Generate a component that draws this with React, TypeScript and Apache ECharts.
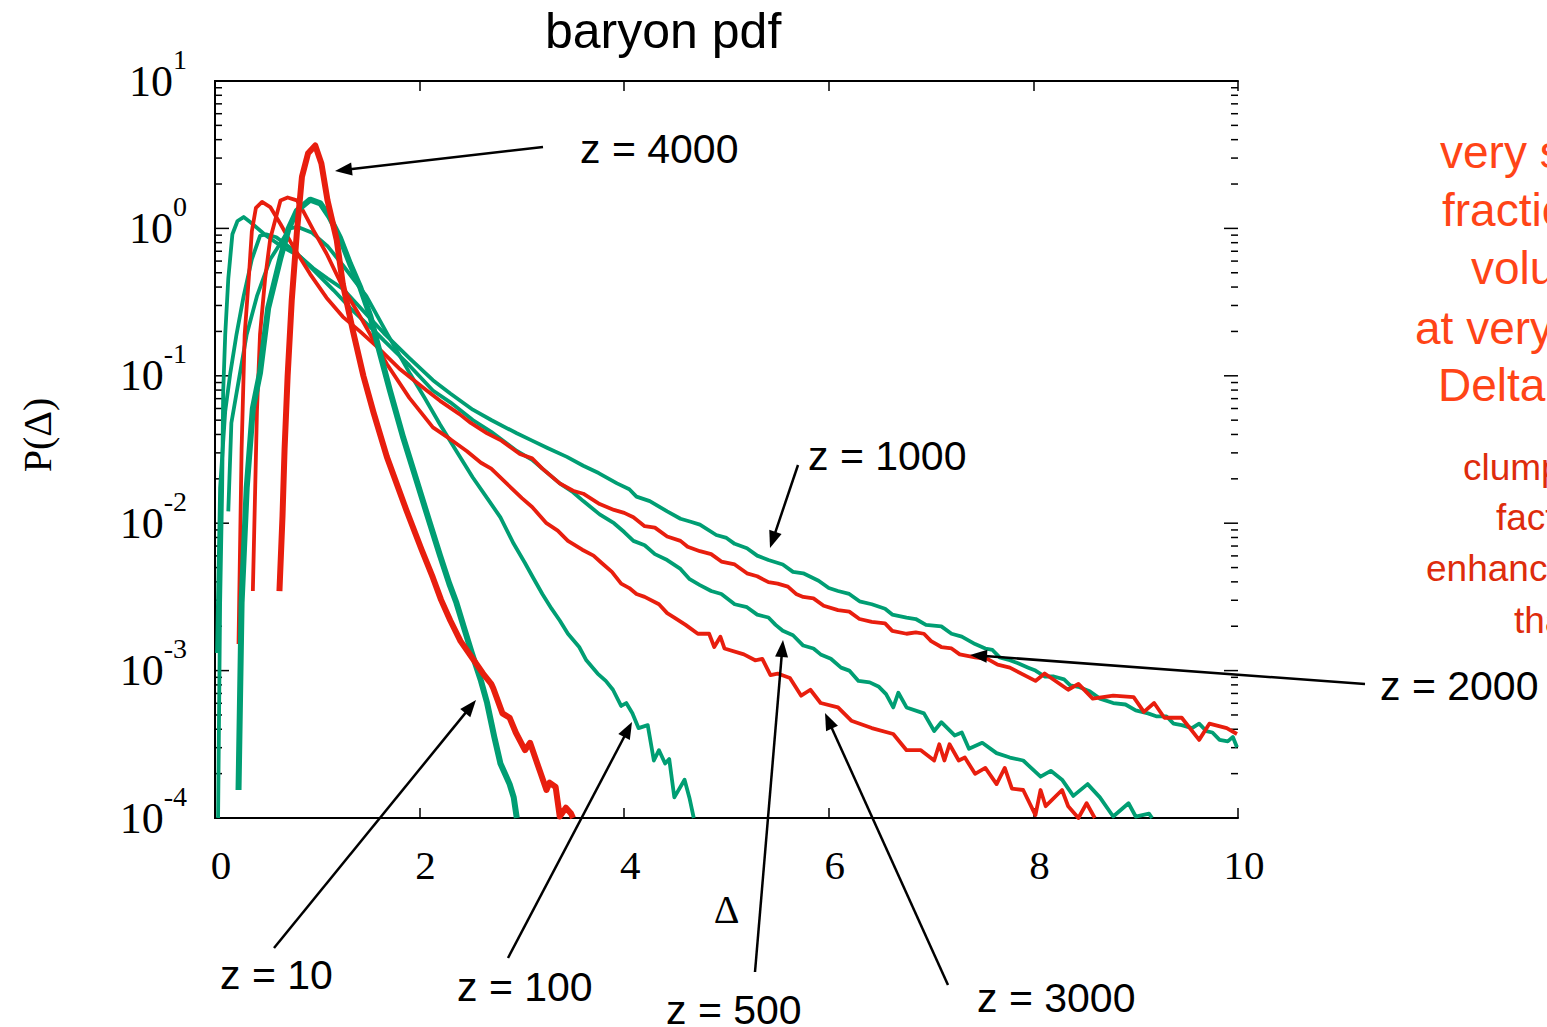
import React, { useEffect, useRef } from "react";
import * as echarts from "echarts";

const RED = "#E81E0E";
const GREEN = "#009E73";
const SERIF = "Liberation Serif";
const SANS = "Liberation Sans";

// Each point: [Δ, log10 P(Δ)]
const z4000 = [
  [0.63, -2.46], [0.66, -1.95], [0.68, -1.5], [0.71, -1.0], [0.75, -0.49], [0.8, -0.03], [0.85, 0.35],
  [0.91, 0.51], [0.98, 0.563], [1.04, 0.44], [1.1, 0.19], [1.19, -0.08], [1.25, -0.38], [1.35, -0.7],
  [1.45, -1.0], [1.55, -1.25], [1.68, -1.55], [1.87, -1.91], [2.02, -2.18], [2.13, -2.37], [2.21, -2.52],
  [2.3, -2.66], [2.4, -2.8], [2.51, -2.91], [2.62, -3.02], [2.7, -3.09], [2.72, -3.12], [2.81, -3.29],
  [2.88, -3.32], [2.94, -3.42], [3.03, -3.54], [3.08, -3.49], [3.15, -3.63], [3.18, -3.69], [3.24, -3.81],
  [3.27, -3.76], [3.33, -3.79], [3.37, -3.99], [3.43, -3.93], [3.48, -3.97], [3.5, -4.0],
];
const z10 = [
  [0.23, -3.81], [0.26, -2.54], [0.31, -1.76], [0.37, -1.22], [0.44, -0.98], [0.52, -0.54], [0.64, -0.2],
  [0.72, 0.0], [0.8, 0.12], [0.93, 0.195], [1.03, 0.17], [1.12, 0.077], [1.22, -0.06], [1.32, -0.24],
  [1.42, -0.4], [1.52, -0.6], [1.61, -0.84], [1.71, -1.1], [1.84, -1.42], [1.97, -1.71], [2.1, -2.0],
  [2.2, -2.22], [2.29, -2.41], [2.36, -2.54], [2.43, -2.7], [2.51, -2.88], [2.6, -3.07], [2.66, -3.22],
  [2.73, -3.45], [2.79, -3.63], [2.88, -3.77], [2.92, -3.86], [2.95, -4.0],
];
const z100 = [
  [0.13, -1.92], [0.16, -1.32], [0.23, -1.04], [0.31, -0.72], [0.41, -0.46], [0.54, -0.21], [0.73, 0.0],
  [0.81, 0.01], [0.95, -0.03], [1.1, -0.12], [1.25, -0.25], [1.36, -0.35], [1.48, -0.46], [1.68, -0.71],
  [1.91, -0.99], [2.05, -1.15], [2.2, -1.33], [2.35, -1.5], [2.52, -1.69], [2.65, -1.82], [2.79, -1.96],
  [2.92, -2.14], [3.03, -2.27], [3.11, -2.37], [3.2, -2.48], [3.29, -2.58], [3.37, -2.66], [3.45, -2.75],
  [3.56, -2.84], [3.63, -2.93], [3.74, -3.02], [3.82, -3.07], [3.89, -3.13], [3.97, -3.24], [4.02, -3.22],
  [4.08, -3.29], [4.14, -3.39], [4.23, -3.37], [4.29, -3.61], [4.34, -3.54], [4.4, -3.63], [4.44, -3.6],
  [4.49, -3.86], [4.59, -3.74], [4.64, -3.87], [4.68, -4.0],
];
const z500 = [
  [0.02, -2.88], [0.05, -1.76], [0.1, -1.24], [0.15, -0.98], [0.21, -0.72], [0.28, -0.46], [0.36, -0.21],
  [0.44, -0.05], [0.5, -0.04], [0.6, -0.06], [0.77, -0.15], [0.93, -0.26], [1.16, -0.42], [1.35, -0.56],
  [1.58, -0.71], [1.65, -0.76], [1.9, -0.93], [2.13, -1.1], [2.3, -1.18], [2.52, -1.3], [2.7, -1.38],
  [2.95, -1.51], [3.1, -1.57], [3.2, -1.63], [3.37, -1.73], [3.5, -1.79], [3.6, -1.85], [3.76, -1.94],
  [3.9, -2.0], [4.0, -2.06], [4.09, -2.12], [4.2, -2.15], [4.3, -2.21], [4.42, -2.25], [4.55, -2.31],
  [4.64, -2.38], [4.74, -2.42], [4.85, -2.46], [4.95, -2.48], [5.08, -2.55], [5.2, -2.57], [5.3, -2.62],
  [5.41, -2.64], [5.48, -2.69], [5.55, -2.73], [5.65, -2.76], [5.75, -2.83], [5.85, -2.85], [5.92, -2.89],
  [6.02, -2.92], [6.12, -2.98], [6.2, -3.0], [6.29, -3.07], [6.4, -3.08], [6.49, -3.11], [6.56, -3.16],
  [6.63, -3.25], [6.68, -3.15], [6.76, -3.25], [6.93, -3.29], [7.03, -3.41], [7.1, -3.35], [7.23, -3.44],
  [7.3, -3.42], [7.37, -3.53], [7.5, -3.49], [7.64, -3.56], [7.77, -3.59], [7.9, -3.61], [8.07, -3.72],
  [8.17, -3.68], [8.28, -3.74], [8.39, -3.85], [8.53, -3.77], [8.65, -3.86], [8.78, -3.99], [8.93, -3.9],
  [9.0, -3.99], [9.13, -3.97], [9.16, -4.0],
];
const z1000 = [
  [0.03, -4.0], [0.05, -2.54], [0.07, -1.76], [0.08, -1.11], [0.1, -0.72], [0.13, -0.34], [0.17, -0.04],
  [0.22, 0.05], [0.28, 0.077], [0.35, 0.04], [0.5, -0.05], [0.67, -0.13], [0.83, -0.19], [0.96, -0.27],
  [1.1, -0.34], [1.25, -0.41], [1.45, -0.56], [1.65, -0.71], [1.9, -0.88], [2.13, -1.03], [2.3, -1.12],
  [2.52, -1.23], [2.7, -1.3], [2.95, -1.39], [3.1, -1.44], [3.25, -1.49], [3.44, -1.55], [3.6, -1.61],
  [3.75, -1.66], [3.93, -1.73], [4.05, -1.77], [4.12, -1.82], [4.25, -1.85], [4.42, -1.92], [4.55, -1.97],
  [4.65, -1.99], [4.74, -2.01], [4.9, -2.08], [5.0, -2.1], [5.08, -2.14], [5.2, -2.17], [5.3, -2.22],
  [5.41, -2.25], [5.55, -2.28], [5.65, -2.33], [5.75, -2.34], [5.9, -2.39], [6.0, -2.44], [6.09, -2.46],
  [6.2, -2.48], [6.3, -2.53], [6.42, -2.55], [6.55, -2.58], [6.62, -2.62], [6.76, -2.64], [6.85, -2.65],
  [6.95, -2.69], [7.1, -2.7], [7.2, -2.75], [7.3, -2.77], [7.43, -2.82], [7.53, -2.85], [7.6, -2.86],
  [7.67, -2.91], [7.77, -2.93], [7.85, -2.95], [7.95, -2.98], [8.02, -3.0], [8.11, -3.04], [8.2, -3.04],
  [8.3, -3.06], [8.36, -3.1], [8.44, -3.11], [8.55, -3.14], [8.65, -3.19], [8.78, -3.22], [8.9, -3.23],
  [9.0, -3.27], [9.12, -3.29], [9.2, -3.31], [9.3, -3.31], [9.37, -3.36], [9.45, -3.37], [9.55, -3.39],
  [9.62, -3.36], [9.69, -3.41], [9.75, -3.42], [9.82, -3.47], [9.9, -3.48], [9.95, -3.45], [9.99, -3.52],
];
const z2000 = [
  [0.23, -2.82], [0.26, -1.5], [0.29, -0.72], [0.33, -0.34], [0.36, -0.02], [0.4, 0.14], [0.46, 0.18],
  [0.54, 0.145], [0.64, 0.03], [0.77, -0.13], [0.93, -0.31], [1.09, -0.47], [1.25, -0.6], [1.42, -0.7],
  [1.58, -0.8], [1.8, -0.95], [2.07, -1.1], [2.2, -1.17], [2.39, -1.26], [2.5, -1.32], [2.66, -1.39],
  [2.8, -1.44], [2.98, -1.53], [3.1, -1.56], [3.2, -1.63], [3.37, -1.73], [3.5, -1.78], [3.6, -1.8],
  [3.76, -1.87], [3.9, -1.91], [4.0, -1.93], [4.09, -1.96], [4.2, -2.02], [4.3, -2.03], [4.42, -2.09],
  [4.55, -2.12], [4.62, -2.16], [4.74, -2.19], [4.85, -2.21], [4.95, -2.26], [5.08, -2.28], [5.2, -2.34],
  [5.3, -2.36], [5.41, -2.4], [5.5, -2.41], [5.6, -2.43], [5.68, -2.48], [5.75, -2.5], [5.85, -2.51],
  [5.95, -2.56], [6.09, -2.59], [6.2, -2.6], [6.3, -2.65], [6.42, -2.67], [6.55, -2.68], [6.62, -2.73],
  [6.76, -2.75], [6.85, -2.74], [6.93, -2.75], [7.0, -2.8], [7.1, -2.84], [7.2, -2.85], [7.28, -2.89],
  [7.43, -2.91], [7.55, -2.92], [7.65, -2.96], [7.77, -2.98], [8.02, -3.07], [8.11, -3.02], [8.34, -3.13],
  [8.44, -3.09], [8.58, -3.19], [8.78, -3.17], [8.98, -3.18], [9.08, -3.28], [9.18, -3.22], [9.28, -3.32],
  [9.45, -3.32], [9.62, -3.47], [9.72, -3.36], [9.89, -3.39], [9.99, -3.43],
];
const z3000 = [
  [0.37, -2.46], [0.41, -1.24], [0.44, -0.72], [0.49, -0.34], [0.54, -0.07], [0.64, 0.19], [0.71, 0.21],
  [0.8, 0.19], [0.86, 0.12], [0.96, -0.01], [1.09, -0.17], [1.25, -0.4], [1.42, -0.6], [1.55, -0.76],
  [1.68, -0.92], [1.9, -1.15], [2.13, -1.35], [2.3, -1.43], [2.46, -1.51], [2.6, -1.59], [2.7, -1.63],
  [2.85, -1.73], [3.0, -1.83], [3.1, -1.89], [3.24, -2.0], [3.35, -2.05], [3.45, -2.12], [3.59, -2.18],
  [3.7, -2.22], [3.78, -2.27], [3.88, -2.33], [3.97, -2.41], [4.05, -2.44], [4.12, -2.48], [4.2, -2.5],
  [4.34, -2.55], [4.42, -2.61], [4.49, -2.64], [4.6, -2.69], [4.72, -2.75], [4.83, -2.75], [4.88, -2.84],
  [4.94, -2.77], [4.98, -2.85], [5.17, -2.89], [5.28, -2.93], [5.35, -2.92], [5.43, -3.03], [5.5, -3.02],
  [5.62, -3.05], [5.73, -3.17], [5.82, -3.13], [5.92, -3.22], [6.09, -3.25], [6.22, -3.34], [6.42, -3.39],
  [6.63, -3.43], [6.76, -3.54], [6.9, -3.54], [7.03, -3.61], [7.08, -3.5], [7.13, -3.61], [7.18, -3.5],
  [7.27, -3.61], [7.33, -3.59], [7.43, -3.7], [7.53, -3.66], [7.64, -3.77], [7.72, -3.66], [7.79, -3.8],
  [7.9, -3.81], [8.02, -3.98], [8.07, -3.81], [8.12, -3.92], [8.28, -3.81], [8.34, -3.92], [8.44, -4.0],
  [8.52, -3.9], [8.6, -4.0],
];

const curves = [
  { name: "z = 1000", data: z1000, color: GREEN, width: 3.8 },
  { name: "z = 500", data: z500, color: GREEN, width: 3.8 },
  { name: "z = 100", data: z100, color: GREEN, width: 3.8 },
  { name: "z = 2000", data: z2000, color: RED, width: 3.8 },
  { name: "z = 3000", data: z3000, color: RED, width: 3.8 },
  { name: "z = 10", data: z10, color: GREEN, width: 6 },
  { name: "z = 4000", data: z4000, color: RED, width: 6 },
];

const xTicks = [0, 2, 4, 6, 8, 10];
const yMin = 1e-4;
const yMax = 10;

// annotation geometry (pixels): label text, text left/centre-y, arrow start, arrow tip
const annotations = [
  { text: "z = 4000", tx: 580, ty: 149, from: [543, 147], to: [335, 171] },
  { text: "z = 1000", tx: 808, ty: 456, from: [798, 465], to: [770, 548] },
  { text: "z = 2000", tx: 1380, ty: 686, from: [1365, 684], to: [970, 655] },
  { text: "z = 10", tx: 220, ty: 975, from: [274, 948], to: [476, 700] },
  { text: "z = 100", tx: 457, ty: 987, from: [508, 958], to: [632, 722] },
  { text: "z = 500", tx: 666, ty: 1010, from: [755, 972], to: [783, 640] },
  { text: "z = 3000", tx: 977, ty: 998, from: [948, 985], to: [825, 713] },
];

const sideNotes1 = [
  { text: "very small", x: 1440, y: 152 },
  { text: "fraction of", x: 1442, y: 210 },
  { text: "volume", x: 1471, y: 268 },
  { text: "at very low", x: 1415, y: 328 },
  { text: "Delta", x: 1438, y: 385 },
];
const sideNotes2 = [
  { text: "clumping", x: 1463, y: 467 },
  { text: "factor", x: 1496, y: 517 },
  { text: "enhanced", x: 1426, y: 568 },
  { text: "that", x: 1514, y: 620 },
];

function arrowGraphics(from: number[], to: number[]) {
  const [x1, y1] = from;
  const [x2, y2] = to;
  const dx = x2 - x1;
  const dy = y2 - y1;
  const L = Math.hypot(dx, dy);
  const ux = dx / L;
  const uy = dy / L;
  const head = 17;
  const hw = 6.5;
  const bx = x2 - ux * head;
  const by = y2 - uy * head;
  return [
    {
      type: "line",
      shape: { x1, y1, x2: bx + ux * 2, y2: by + uy * 2 },
      style: { stroke: "#000", lineWidth: 2.5 },
      z: 100,
    },
    {
      type: "polygon",
      shape: {
        points: [
          [x2, y2],
          [bx - uy * hw, by + ux * hw],
          [bx + uy * hw, by - ux * hw],
        ],
      },
      style: { fill: "#000" },
      z: 100,
    },
  ];
}

export default function App() {
  const ref = useRef<HTMLDivElement>(null);
  useEffect(() => {
    const chart = echarts.init(ref.current!, null, { renderer: "svg" });

    // y-axis tick marks (decades long, 2..9 short), drawn on both sides inside the box
    const yTickMarks: number[][] = [];
    for (let e = -4; e <= 1; e++) {
      yTickMarks.push([0, Math.pow(10, e), 14]);
      if (e < 1) for (let m = 2; m <= 9; m++) yTickMarks.push([0, m * Math.pow(10, e), 7]);
    }

    const graphic: any[] = [];
    annotations.forEach((a) => {
      graphic.push(...arrowGraphics(a.from, a.to));
      graphic.push({
        type: "text",
        x: a.tx,
        y: a.ty,
        z: 100,
        style: {
          text: a.text,
          fontSize: 41,
          fontFamily: SANS,
          fill: "#000",
          align: "left",
          verticalAlign: "middle",
        },
      });
    });
    sideNotes1.forEach((n) =>
      graphic.push({
        type: "text",
        x: n.x,
        y: n.y,
        style: { text: n.text, fontSize: 46, fontFamily: SANS, fill: "#FF4417", align: "left", verticalAlign: "middle" },
      })
    );
    sideNotes2.forEach((n) =>
      graphic.push({
        type: "text",
        x: n.x,
        y: n.y,
        style: { text: n.text, fontSize: 37, fontFamily: SANS, fill: "#DE2C0C", align: "left", verticalAlign: "middle" },
      })
    );
    graphic.push({
      type: "text",
      x: 37,
      y: 435,
      rotation: Math.PI / 2,
      style: { text: "P(Δ)", fontSize: 40, fontFamily: SERIF, fill: "#000", align: "center", verticalAlign: "middle" },
    });

    const yLabelFmt = (v: number) => {
      const e = Math.round(Math.log10(v));
      return `{b|10}{s|${e}}`;
    };

    const option: any = {
      animation: false,
      backgroundColor: "#fff",
      title: {
        text: "baryon pdf",
        left: 540,
        top: 1,
        textStyle: { fontSize: 50, fontWeight: "normal", fontFamily: SANS, color: "#000" },
      },
      grid: { left: 215, right: 309, top: 81, bottom: 209, containLabel: false },
      xAxis: [
        {
          type: "value",
          min: 0,
          max: 10,
          interval: 2,
          name: "Δ",
          nameLocation: "middle",
          nameGap: 58,
          nameTextStyle: { fontSize: 40, fontFamily: SERIF, color: "#000" },
          axisLine: { show: true, lineStyle: { color: "#000", width: 2 } },
          axisTick: { show: true, inside: true, length: 10, lineStyle: { color: "#000", width: 1.5 } },
          axisLabel: {
            show: true,
            margin: 26,
            fontSize: 41,
            fontFamily: SERIF,
            color: "#000",
            padding: [0, 0, 0, 12],
            formatter: (v: number) => (xTicks.includes(v) ? String(v) : ""),
          },
          splitLine: { show: false },
        },
        {
          type: "value",
          position: "top",
          min: 0,
          max: 10,
          interval: 2,
          axisLine: { show: true, lineStyle: { color: "#000", width: 2 } },
          axisTick: { show: true, inside: true, length: 10, lineStyle: { color: "#000", width: 1.5 } },
          axisLabel: { show: false },
          splitLine: { show: false },
        },
      ],
      yAxis: [
        {
          type: "log",
          logBase: 10,
          min: yMin,
          max: yMax,
          axisLine: { show: true, lineStyle: { color: "#000", width: 2 } },
          axisTick: { show: false },
          axisLabel: {
            show: true,
            margin: 28,
            color: "#000",
            formatter: yLabelFmt,
            rich: {
              b: { fontSize: 44, fontFamily: SERIF, color: "#000", lineHeight: 44, verticalAlign: "bottom" },
              s: {
                fontSize: 28,
                fontFamily: SERIF,
                color: "#000",
                lineHeight: 28,
                verticalAlign: "bottom",
                padding: [0, 0, 30, 0],
              },
            },
          },
          splitLine: { show: false },
        },
        {
          type: "log",
          logBase: 10,
          min: yMin,
          max: yMax,
          position: "right",
          axisLine: { show: true, lineStyle: { color: "#000", width: 2 } },
          axisTick: { show: false },
          axisLabel: { show: false },
          splitLine: { show: false },
        },
      ],
      series: [
        {
          type: "custom",
          name: "y ticks",
          xAxisIndex: 0,
          yAxisIndex: 0,
          silent: true,
          clip: false,
          data: yTickMarks,
          renderItem: (_p: any, api: any) => {
            const v = api.value(1);
            const len = api.value(2);
            const l = api.coord([0, v]);
            const r = api.coord([10, v]);
            return {
              type: "group",
              children: [
                { type: "line", shape: { x1: l[0], y1: l[1], x2: l[0] + len, y2: l[1] }, style: { stroke: "#000", lineWidth: 1.5 } },
                { type: "line", shape: { x1: r[0] - len, y1: r[1], x2: r[0], y2: r[1] }, style: { stroke: "#000", lineWidth: 1.5 } },
              ],
            };
          },
        },
        ...curves.map((c) => ({
          type: "line",
          name: c.name,
          xAxisIndex: 0,
          yAxisIndex: 0,
          data: c.data.map(([d, lg]) => [d, Math.pow(10, lg)]),
          showSymbol: false,
          symbol: "none",
          smooth: false,
          clip: true,
          lineStyle: { color: c.color, width: c.width, join: "round" },
          itemStyle: { color: c.color },
        })),
      ],
      graphic,
    };
    chart.setOption(option);
    return () => chart.dispose();
  }, []);
  return (
    <div
      ref={ref}
      style={{ position: "absolute", left: 0, top: 0, width: 1547, height: 1027, background: "#fff" }}
    />
  );
}
